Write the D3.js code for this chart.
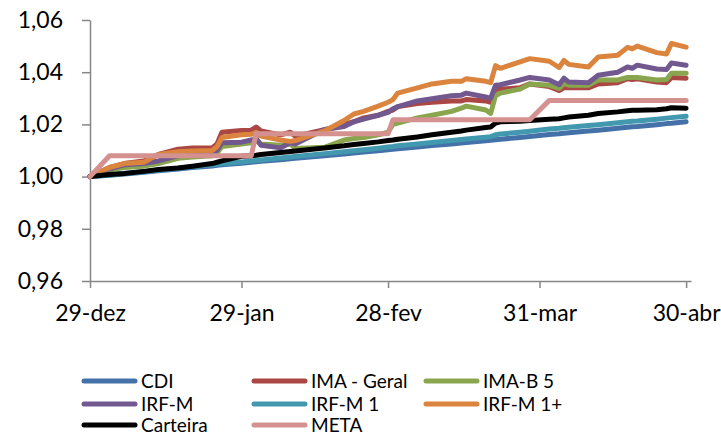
<!DOCTYPE html>
<html>
<head>
<meta charset="utf-8">
<script src="https://cdn.jsdelivr.net/npm/d3@7"></script>
<style>
  html, body { margin: 0; padding: 0; background: #fff; }
  svg { display: block; }
  text { font-family: Lato, "Open Sans", sans-serif; fill: #000; }
</style>
</head>
<body>
<svg id="chart" width="721" height="437"></svg>
<script>
// ---------------- DATA ----------------
const dates = [
  "2017-12-29","2018-01-02","2018-01-05","2018-01-09","2018-01-12","2018-01-16","2018-01-19","2018-01-23","2018-01-24","2018-01-25",
  "2018-01-29","2018-01-31","2018-02-01","2018-02-02","2018-02-06","2018-02-08","2018-02-09","2018-02-15","2018-02-19","2018-02-21",
  "2018-02-23","2018-02-26","2018-02-28","2018-03-01","2018-03-02","2018-03-06","2018-03-09","2018-03-13","2018-03-15","2018-03-16",
  "2018-03-20","2018-03-21","2018-03-22","2018-03-23","2018-03-27","2018-03-29","2018-04-02","2018-04-04","2018-04-05","2018-04-06",
  "2018-04-10","2018-04-12","2018-04-16","2018-04-18","2018-04-19","2018-04-20","2018-04-24","2018-04-26","2018-04-27","2018-04-30"
];

const cdi = [
  1.0000,1.0005,1.0010,1.0017,1.0022,1.0029,1.0035,1.0041,1.0043,1.0045,
  1.0051,1.0055,1.0057,1.0059,1.0065,1.0068,1.0070,1.0080,1.0087,1.0090,
  1.0094,1.0099,1.0103,1.0105,1.0107,1.0113,1.0119,1.0125,1.0129,1.0131,
  1.0137,1.0139,1.0141,1.0143,1.0150,1.0154,1.0161,1.0164,1.0166,1.0168,
  1.0175,1.0178,1.0185,1.0189,1.0191,1.0192,1.0199,1.0203,1.0204,1.0210
];
const imaGeral = [
  1.0000,1.0035,1.0050,1.0060,1.0085,1.0105,1.0110,1.0110,1.0125,1.0170,
  1.0177,1.0178,1.0190,1.0175,1.0160,1.0170,1.0155,1.0180,1.0200,1.0210,
  1.0225,1.0235,1.0250,1.0255,1.0268,1.0280,1.0285,1.0290,1.0290,1.0295,
  1.0290,1.0285,1.0335,1.0335,1.0340,1.0355,1.0345,1.0330,1.0340,1.0340,
  1.0340,1.0355,1.0360,1.0375,1.0372,1.0375,1.0362,1.0360,1.0380,1.0377
];
const imaB5 = [
  1.0000,1.0025,1.0035,1.0040,1.0050,1.0070,1.0075,1.0080,1.0090,1.0115,
  1.0125,1.0130,1.0140,1.0125,1.0120,1.0125,1.0108,1.0112,1.0140,1.0146,
  1.0150,1.0160,1.0170,1.0200,1.0205,1.0225,1.0235,1.0250,1.0262,1.0270,
  1.0255,1.0242,1.0310,1.0320,1.0335,1.0355,1.0350,1.0338,1.0357,1.0350,
  1.0350,1.0370,1.0370,1.0380,1.0380,1.0380,1.0370,1.0372,1.0396,1.0396
];
const irfM = [
  1.0000,1.0030,1.0045,1.0050,1.0060,1.0080,1.0085,1.0088,1.0100,1.0130,
  1.0132,1.0140,1.0146,1.0120,1.0110,1.0130,1.0125,1.0180,1.0192,1.0210,
  1.0220,1.0235,1.0246,1.0260,1.0268,1.0290,1.0298,1.0310,1.0312,1.0320,
  1.0305,1.0300,1.0350,1.0352,1.0370,1.0380,1.0370,1.0352,1.0377,1.0362,
  1.0360,1.0388,1.0400,1.0420,1.0415,1.0427,1.0412,1.0410,1.0435,1.0427
];
const irfM1 = [
  1.0000,1.0006,1.0012,1.0019,1.0025,1.0032,1.0038,1.0045,1.0047,1.0049,
  1.0056,1.0060,1.0062,1.0064,1.0071,1.0075,1.0077,1.0088,1.0095,1.0099,
  1.0103,1.0109,1.0113,1.0115,1.0118,1.0125,1.0131,1.0138,1.0142,1.0144,
  1.0151,1.0153,1.0160,1.0163,1.0170,1.0174,1.0182,1.0185,1.0187,1.0189,
  1.0196,1.0199,1.0206,1.0210,1.0212,1.0213,1.0220,1.0224,1.0226,1.0231
];
const irfM1Plus = [
  1.0000,1.0035,1.0050,1.0055,1.0085,1.0095,1.0098,1.0100,1.0115,1.0150,
  1.0160,1.0162,1.0170,1.0155,1.0140,1.0135,1.0138,1.0175,1.0215,1.0240,
  1.0250,1.0270,1.0285,1.0295,1.0320,1.0340,1.0355,1.0365,1.0365,1.0375,
  1.0365,1.0360,1.0425,1.0415,1.0440,1.0452,1.0442,1.0418,1.0445,1.0430,
  1.0420,1.0458,1.0465,1.0495,1.0490,1.0500,1.0475,1.0470,1.0510,1.0496
];
const carteira = [
  1.0000,1.0008,1.0012,1.0020,1.0027,1.0033,1.0040,1.0050,1.0055,1.0060,
  1.0078,1.0080,1.0082,1.0085,1.0092,1.0096,1.0098,1.0110,1.0118,1.0123,
  1.0127,1.0133,1.0138,1.0140,1.0143,1.0152,1.0160,1.0170,1.0175,1.0178,
  1.0188,1.0190,1.0205,1.0210,1.0212,1.0215,1.0220,1.0222,1.0225,1.0228,
  1.0235,1.0242,1.0248,1.0252,1.0254,1.0254,1.0256,1.0260,1.0264,1.0262
];
const meta = [
  1.0000,1.0080,1.0080,1.0080,1.0080,1.0080,1.0080,1.0080,1.0080,1.0080,
  1.0080,1.0080,1.0164,1.0164,1.0164,1.0164,1.0164,1.0164,1.0164,1.0164,
  1.0164,1.0164,1.0164,1.0218,1.0218,1.0218,1.0218,1.0218,1.0218,1.0218,
  1.0218,1.0218,1.0218,1.0218,1.0218,1.0218,1.0292,1.0292,1.0292,1.0292,
  1.0292,1.0292,1.0292,1.0292,1.0292,1.0292,1.0292,1.0292,1.0292,1.0292
];

const seriesNames = ["CDI","IMA - Geral","IMA-B 5","IRF-M","IRF-M 1","IRF-M 1+","Carteira","META"];
const seriesValues = [cdi, imaGeral, imaB5, irfM, irfM1, irfM1Plus, carteira, meta];
const seriesColors = ["#4472A8","#AA4643","#89A54E","#71588F","#4198AF","#DB843D","#000000","#D4918F"];

const yTickValues = [0.96, 0.98, 1.00, 1.02, 1.04, 1.06];
const yTickLabels = ["0,96","0,98","1,00","1,02","1,04","1,06"];
const xTickDates = ["2017-12-29","2018-01-29","2018-02-28","2018-03-31","2018-04-30"];
const xTickLabels = ["29-dez","29-jan","28-fev","31-mar","30-abr"];

// ---------------- CHART ----------------
const parse = d3.utcParse("%Y-%m-%d");
const svg = d3.select("#chart");

const x = d3.scaleUtc()
  .domain([parse("2017-12-29"), parse("2018-05-01")])
  .range([90, 691]);
const y = d3.scaleLinear().domain([0.96, 1.06]).range([281, 20]);

const axisColor = "#868686";

// Y axis
const yAxis = d3.axisLeft(y)
  .tickValues(yTickValues)
  .tickFormat((d, i) => yTickLabels[i])
  .tickSizeInner(8).tickSizeOuter(0).tickPadding(19);
const gy = svg.append("g").attr("transform", "translate(90,0)").call(yAxis);
gy.select(".domain").attr("stroke", axisColor).attr("stroke-width", 1.5);
gy.selectAll(".tick line").attr("stroke", axisColor).attr("stroke-width", 1.5);
gy.selectAll(".tick text").attr("font-size", 23).attr("font-family", "Lato, sans-serif").attr("fill", "#000");

// X axis
const xTicks = xTickDates.map(parse);
const xAxis = d3.axisBottom(x)
  .tickValues(xTicks)
  .tickFormat((d, i) => xTickLabels[i])
  .tickSizeInner(7).tickSizeOuter(0).tickPadding(17);
const gx = svg.append("g").attr("transform", "translate(0,281)").call(xAxis);
gx.select(".domain").attr("stroke", axisColor).attr("stroke-width", 1.5);
gx.selectAll(".tick line").attr("stroke", axisColor).attr("stroke-width", 1.5);
gx.selectAll(".tick text").attr("font-size", 23).attr("font-family", "Lato, sans-serif").attr("fill", "#000");

// Lines
const line = d3.line()
  .x(d => x(d.date))
  .y(d => y(d.value));

seriesValues.forEach((vals, si) => {
  const pts = vals.map((v, i) => ({ date: parse(dates[i]), value: v }));
  svg.append("path")
    .datum(pts)
    .attr("fill", "none")
    .attr("stroke", seriesColors[si])
    .attr("stroke-width", 5)
    .attr("stroke-linejoin", "round")
    .attr("stroke-linecap", "round")
    .attr("d", line);
});

// Legend
const legendCols = [82, 252, 424];
const legendRows = [381, 404, 425];
const legend = svg.append("g");
seriesNames.forEach((name, i) => {
  const col = i % 3, row = Math.floor(i / 3);
  const lx = legendCols[col], ly = legendRows[row];
  legend.append("line")
    .attr("x1", lx + 2).attr("x2", lx + 53)
    .attr("y1", ly).attr("y2", ly)
    .attr("stroke", seriesColors[i])
    .attr("stroke-width", 5)
    .attr("stroke-linecap", "round");
  legend.append("text")
    .attr("x", lx + 59).attr("y", ly)
    .attr("dy", "0.35em")
    .attr("font-size", 19)
    .text(name);
});
</script>
</body>
</html>
